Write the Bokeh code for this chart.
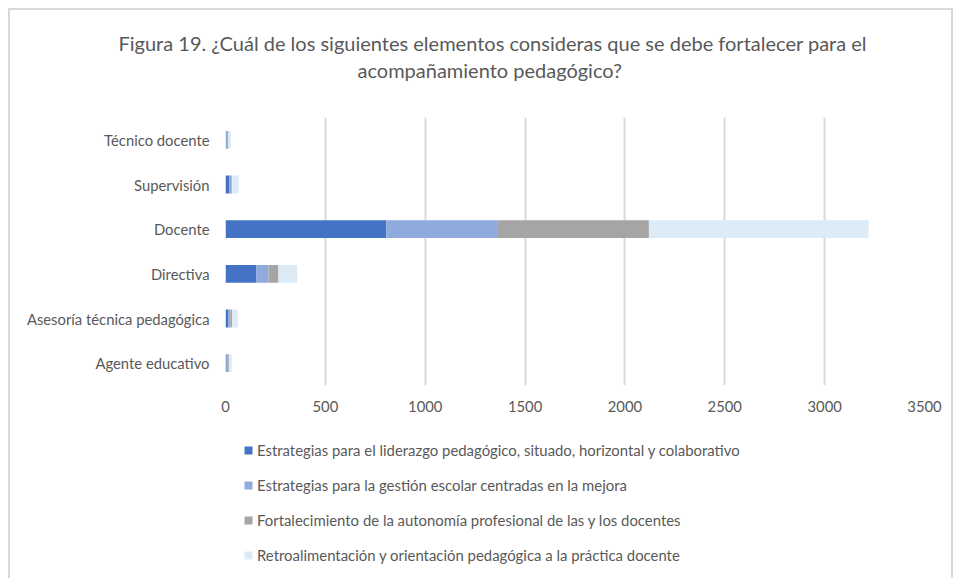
from bokeh.plotting import figure
from bokeh.layouts import column
from bokeh.models import Legend, LegendItem, FactorRange, Range1d, FixedTicker, ColumnDataSource, Title
from bokeh.embed import file_html
from bokeh.resources import INLINE

categories = ["Agente educativo", "Asesoría técnica pedagógica", "Directiva", "Docente", "Supervisión", "Técnico docente"]
liderazgo = [2, 13, 155, 805, 20, 0]
gestion = [12, 12, 60, 555, 10, 12]
autonomia = [4, 8, 50, 760, 3, 3]
retro = [13, 28, 95, 1100, 33, 12]
series_names = [
    "Estrategias para el liderazgo pedagógico, situado, horizontal y colaborativo",
    "Estrategias para la gestión escolar centradas en la mejora",
    "Fortalecimiento de la autonomía profesional de las y los docentes",
    "Retroalimentación y orientación pedagógica a la práctica docente",
]
title_lines = [
    "Figura 19. ¿Cuál de los siguientes elementos consideras que se debe fortalecer para el",
    "acompañamiento pedagógico?",
]
colors = ["#4472C4", "#8FAADC", "#A5A5A5", "#DDEBF7"]
x_ticks = [0, 500, 1000, 1500, 2000, 2500, 3000, 3500]

source = ColumnDataSource(dict(cat=categories, s0=liderazgo, s1=gestion, s2=autonomia, s3=retro))
keys = ["s0", "s1", "s2", "s3"]

FONT = "Lato"
TXT = "#595959"
W = 941

p = figure(
    title=None,
    y_range=FactorRange(*categories), x_range=Range1d(0, 3500),
    width=W, height=410, output_backend="svg", toolbar_location=None,
    min_border_left=215, min_border_right=27, min_border_top=107, min_border_bottom=35,
)
p.hbar_stack(keys, y="cat", height=0.4, color=colors, source=source, line_width=0)

spacer = Title(text=".", text_font_size="1px", standoff=33, text_color="white")
t2 = Title(text=title_lines[1], align="left", offset=132, standoff=0,
           text_font=FONT, text_font_size="20px", text_font_style="normal", text_color=TXT)
t1 = Title(text=title_lines[0], align="left", offset=-107, standoff=1,
           text_font=FONT, text_font_size="20px", text_font_style="normal", text_color=TXT)
p.add_layout(spacer, "above")
p.add_layout(t2, "above")
p.add_layout(t1, "above")

p.outline_line_color = None
p.ygrid.grid_line_color = None
p.xgrid.grid_line_color = "#d9d9d9"
p.xgrid.grid_line_width = 2
p.xaxis.ticker = FixedTicker(ticks=x_ticks)
for ax in (p.xaxis, p.yaxis):
    ax.axis_line_color = None
    ax.major_tick_line_color = None
    ax.minor_tick_line_color = None
    ax.major_tick_out = 0
    ax.major_tick_in = 0
    ax.major_label_text_font = FONT
    ax.major_label_text_font_size = "14.8px"
    ax.major_label_text_color = TXT
p.xaxis.major_label_standoff = 15
p.yaxis.major_label_standoff = 16

# legend panel (frame aligned with the chart above); its bars have zero height
q = figure(
    y_range=FactorRange(*categories), x_range=Range1d(-2, -1),
    width=W, height=158, output_backend="svg", toolbar_location=None,
    min_border=0,
)
q.axis.visible = False
q.grid.visible = False
q.outline_line_color = None
q_renderers = q.hbar_stack(keys, y="cat", height=0, fill_color=colors, line_color=None, source=source)

legend = Legend(
    items=[LegendItem(label=n, renderers=[r]) for n, r in zip(series_names, q_renderers)],
    location=(18, 13), orientation="vertical",
    glyph_width=10, glyph_height=10, label_height=20, spacing=15, padding=0, margin=0,
    label_standoff=4, label_text_font=FONT, label_text_font_size="14.9px", label_text_color=TXT,
    border_line_color=None, background_fill_alpha=0,
)
q.add_layout(legend, "center")

layout = column(p, q, spacing=0)
layout.styles = {"border-top": "2px solid #d9d9d9", "border-left": "2px solid #d9d9d9",
                 "border-right": "2px solid #d9d9d9", "margin-left": "8px", "margin-top": "8px"}

open("out.html", "w").write(file_html(layout, INLINE))
